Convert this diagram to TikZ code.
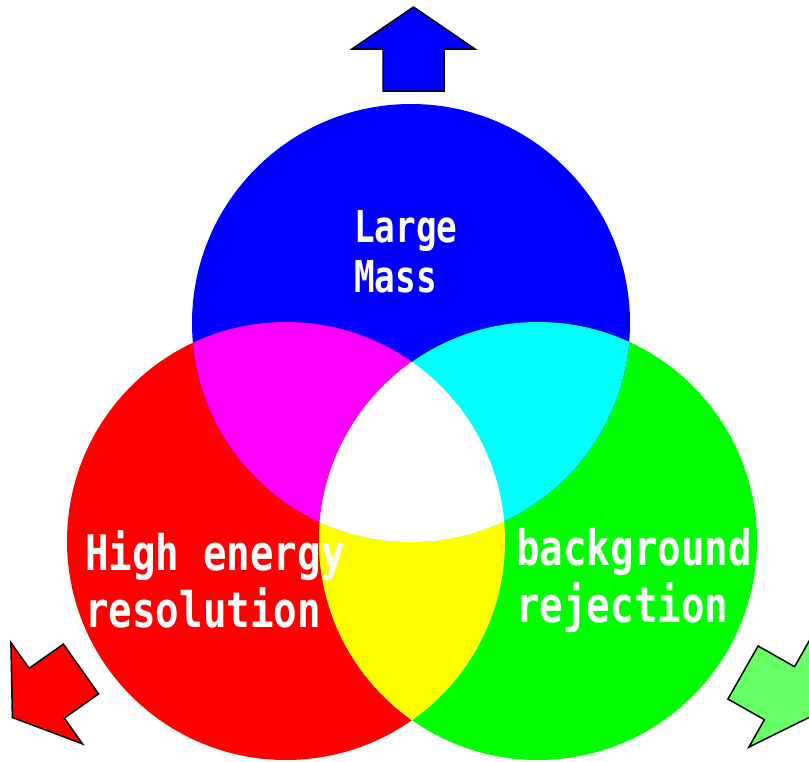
\documentclass[tikz,border=0pt]{standalone}
\usepackage{fontspec}
\newfontfamily\labelfont{DejaVu Sans Mono}
\definecolor{cRed}{RGB}{255,0,0}
\definecolor{cGreen}{RGB}{0,255,0}
\definecolor{cBlue}{RGB}{0,0,255}
\definecolor{cMag}{RGB}{255,0,255}
\definecolor{cCyan}{RGB}{0,255,255}
\definecolor{cYel}{RGB}{255,255,0}
\definecolor{cArrowGreen}{RGB}{102,255,102}
\tikzset{
  bigarrow/.style={draw=black, line width=1.5pt, line join=miter},
  lbl/.style={anchor=base west, inner sep=0pt, text=white,
    font=\labelfont\bfseries\fontsize{49}{49}\selectfont},
  lblsmall/.style={lbl, font=\labelfont\bfseries\fontsize{44}{44}\selectfont}
}
\newcommand{\lbltext}[1]{\scalebox{0.8}[1]{#1}}
\newcommand{\lbltextsmall}[1]{\scalebox{0.78}[1]{#1}}
\begin{document}
\begin{tikzpicture}[x=1pt,y=-1pt]
\useasboundingbox (0,0) rectangle (809,761);
\clip (0,0) rectangle (809,761);
\fill[white] (0,0) rectangle (809,761);
\coordinate (B) at (411,323);
\coordinate (R) at (286,541);
\coordinate (G) at (538,541);
\def\rr{219pt}
% base circles
\fill[cRed] (R) circle (\rr);
\fill[cGreen] (G) circle (\rr);
\fill[cBlue] (B) circle (\rr);
% pairwise overlaps
\begin{scope}
  \clip (R) circle (\rr);
  \fill[cMag] (B) circle (\rr);
  \fill[cYel] (G) circle (\rr);
\end{scope}
\begin{scope}
  \clip (B) circle (\rr);
  \fill[cCyan] (G) circle (\rr);
\end{scope}
% triple overlap
\begin{scope}
  \clip (R) circle (\rr);
  \clip (G) circle (\rr);
  \fill[white] (B) circle (\rr);
\end{scope}
% arrows
\draw[bigarrow, fill=cBlue] (383,91) -- (383,49) -- (352,49) -- (413.5,7) -- (475,49) -- (444,49) -- (444,91) -- cycle;
\draw[bigarrow, fill=cRed] (63.4,644.1) -- (29.1,668.3) -- (10.9,642.5) -- (12.4,717.5) -- (82.5,743.9) -- (64.3,718.1) -- (98.6,693.9) -- cycle;
\draw[bigarrow, fill=cArrowGreen] (758.1,646.0) -- (794.6,666.7) -- (810.1,639.3) -- (816.1,714) -- (748.9,747.1) -- (764.4,719.7) -- (727.9,699.0) -- cycle;
% labels
\node[lblsmall] (t1) at (354,242) {\lbltextsmall{Large}};
\node[lblsmall] (t2) at (354,292) {\lbltextsmall{Mass}};
\node[lbl] (t3) at (85,570) {\lbltext{High energy}};
\node[lbl] (t4) at (85,627) {\lbltext{resolution}};
\node[lbl] (t5) at (516,565) {\lbltext{background}};
\node[lbl] (t6) at (516,622) {\lbltext{rejection}};
\end{tikzpicture}
\end{document}
